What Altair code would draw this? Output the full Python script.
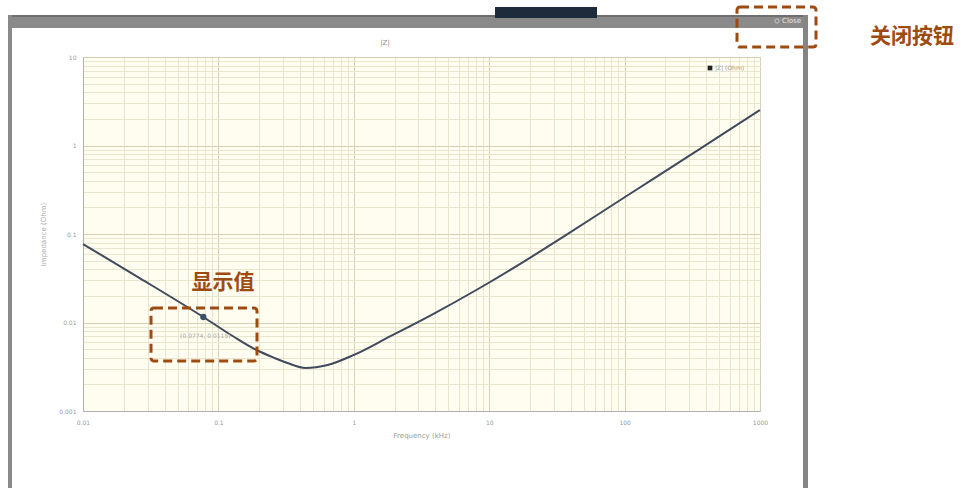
import altair as alt
import pandas as pd

# ---- data ----
freq_khz = [0.01, 0.0264, 0.0774, 0.13, 0.191, 0.26, 0.324, 0.441, 0.641, 1.0,
            1.82, 3.85, 8.15, 17.3, 36.6, 77.4, 164, 353, 1000]
impedance = [0.077, 0.0316, 0.01153, 0.0069, 0.00489, 0.00397, 0.00348, 0.00306,
             0.00331, 0.0043, 0.00686, 0.01245, 0.0236, 0.0469, 0.0964, 0.2018,
             0.4227, 0.900, 2.52]
marker_freq = [0.0774]
marker_z = [0.01153]
marker_label = ["(0.0774, 0.0115)"]

x_decades = [0.01, 0.1, 1, 10, 100]
y_decades = [0.001, 0.01, 0.1, 1]
multipliers = [1, 2, 3, 4, 5, 6, 7, 8, 9]
x_grid = [round(m * d, 6) for d in x_decades for m in multipliers] + [1000]
y_grid = [round(m * d, 6) for d in y_decades for m in multipliers] + [10]

chart_title = "|Z|"
x_title = "Frequency (kHz)"
y_title = "Impedance (Ohm)"
legend_label = "|Z| (Ohm)"
close_label = "Close"
note_close = "关闭按钮"
note_value = "显示值"

df = pd.DataFrame({"f": freq_khz, "z": impedance})
mk = pd.DataFrame({"f": marker_freq, "z": marker_z, "t": marker_label})
one = pd.DataFrame({"a": [0]})

ORANGE = "#9E4B12"
major_test = "abs(log(datum.value)/LN10 - round(log(datum.value)/LN10)) < 0.000001"
label_expr = major_test + " ? format(datum.value, '~g') : ''"

x_scale = alt.Scale(type="log", domain=[0.01, 1000], nice=False)
y_scale = alt.Scale(type="log", domain=[0.001, 10], nice=False)

x_axis = alt.Axis(values=x_grid, labelExpr=label_expr, title=x_title,
                  grid=True,
                  gridColor={"condition": {"test": major_test, "value": "#d6d1b4"}, "value": "#e9e5cf"},
                  tickSize=0, labelFontSize=6, labelColor="#999", labelPadding=8,
                  titleFontSize=7, titleColor="#999", titleFontWeight="normal",
                  titlePadding=6, domainColor="#b0b0b0", labelFont="DejaVu Sans",
                  titleFont="DejaVu Sans", labelFlush=False)
y_axis = alt.Axis(values=y_grid, labelExpr=label_expr, title=y_title,
                  grid=True,
                  gridColor={"condition": {"test": major_test, "value": "#d6d1b4"}, "value": "#e9e5cf"},
                  tickSize=0, labelFontSize=6, labelColor="#999", labelPadding=7,
                  titleFontSize=7, titleColor="#aaa", titleFontWeight="normal",
                  titlePadding=12, domainColor="#b0b0b0", labelFont="DejaVu Sans",
                  titleFont="DejaVu Sans", labelFlush=False)

line = alt.Chart(df).mark_line(color="#3f4b5c", strokeWidth=2, interpolate="monotone").encode(
    x=alt.X("f:Q", scale=x_scale, axis=x_axis),
    y=alt.Y("z:Q", scale=y_scale, axis=y_axis),
)
point = alt.Chart(mk).mark_point(filled=True, color="#3a5068", size=40, opacity=1).encode(
    x=alt.X("f:Q", scale=x_scale), y=alt.Y("z:Q", scale=y_scale))
tip = alt.Chart(mk).mark_text(fontSize=6, color="#aaa", dy=19, dx=2, font="DejaVu Sans").encode(
    x=alt.X("f:Q", scale=x_scale), y=alt.Y("z:Q", scale=y_scale), text="t:N")


def rect(x1, x2, y1, y2, **kw):
    return alt.Chart(one).mark_rect(**kw).encode(
        x=alt.value(x1), x2=alt.value(x2), y=alt.value(y1), y2=alt.value(y2))


def text(x, y, s, **kw):
    return alt.Chart(one).mark_text(**kw).encode(
        x=alt.value(x), y=alt.value(y), text=alt.value(s))

# window frame (coordinates relative to plot origin at 83,57)
top_bar = rect(-75, 725, -42, -29, color="#8a8a8a")
top_edge = rect(-75, 725, -42, -40, color="#6e6e6e")
left_border = rect(-75, -71, -42, 431, color="#8a8a8a")
right_border = rect(720, 725, -42, 431, color="#858585")
dark_tab = rect(412, 514, -50, -39, color="#1d2b3b")
close_icon = alt.Chart(one).mark_point(shape="circle", color="#e4e4e4", size=18, strokeWidth=1).encode(
    x=alt.value(694), y=alt.value(-36))
close_txt = text(699, -36, close_label, fontSize=7, color="#e4e4e4", align="left",
                 baseline="middle", font="DejaVu Sans")
title_txt = text(302, -14, chart_title, fontSize=7, color="#888", baseline="middle",
                 font="DejaVu Sans")
legend_sq = alt.Chart(one).mark_square(color="#222", size=22, opacity=1).encode(
    x=alt.value(627), y=alt.value(11))
legend_txt = text(632, 11, legend_label, fontSize=6, color="#999", align="left",
                  baseline="middle", font="DejaVu Sans")

box1 = rect(654, 733, -50, -10, fillOpacity=0, stroke=ORANGE, strokeWidth=3,
            strokeDash=[9, 5], cornerRadius=3)
box2 = rect(68, 174, 251, 304, fillOpacity=0, stroke=ORANGE, strokeWidth=3,
            strokeDash=[9, 5], cornerRadius=3)
note1 = text(829, -20, note_close, fontSize=21, fontWeight="bold", color=ORANGE,
             baseline="middle", font="Noto Sans CJK SC")
note2 = text(140, 226, note_value, fontSize=21, fontWeight="bold", color=ORANGE,
             baseline="middle", font="Noto Sans CJK SC")

chart = alt.layer(
    line, point, tip,
    top_bar, top_edge, left_border, right_border, dark_tab, close_icon, close_txt,
    title_txt, legend_sq, legend_txt, box1, box2, note1, note2,
).properties(
    width=677, height=354,
    autosize=alt.AutoSizeParams(type="none"),
    padding={"left": 83, "top": 57, "right": 202, "bottom": 77},
    background="white",
).configure_view(fill="#fffdf0", stroke="#c8c8c8")

chart.save("out.html", embed_options={"renderer": "svg", "actions": False})
